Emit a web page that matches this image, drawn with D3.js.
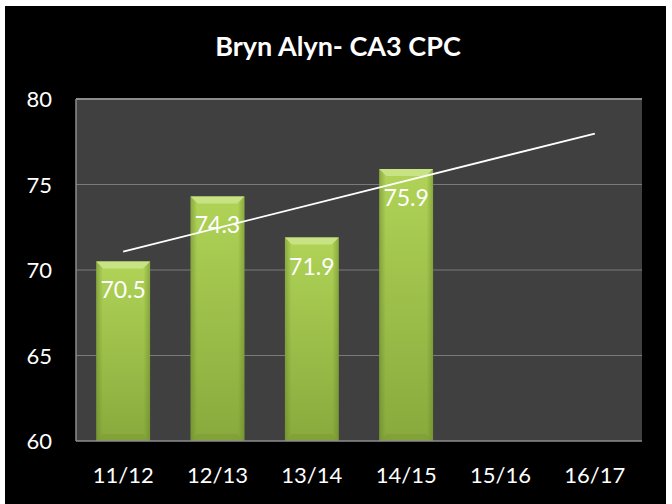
<!DOCTYPE html>
<html>
<head>
<meta charset="utf-8">
<script src="https://cdn.jsdelivr.net/npm/d3@7"></script>
<style>
  body { margin: 0; background: #fff; }
  svg { display: block; }
</style>
</head>
<body>
<svg id="chart"></svg>
<script>
// chart data
var years = ['11/12', '12/13', '13/14', '14/15', '15/16', '16/17']
var scores = [70.5, 74.3, 71.9, 75.9]
var yTicks = [60, 65, 70, 75, 80]
var title = 'Bryn Alyn- CA3 CPC'

var width = 672
var height = 504
var margin = { top: 99, right: 30, bottom: 63, left: 76 }

var svg = d3.select('#chart').attr('width', width).attr('height', height)

// black card with thin white frame
svg.append('rect')
  .attr('x', 5).attr('y', 6)
  .attr('width', 661).attr('height', 498)
  .attr('fill', '#000')

var defs = svg.append('defs')
var g1 = defs.append('linearGradient').attr('id', 'barFill')
  .attr('x1', 0).attr('y1', 0).attr('x2', 0).attr('y2', 1)
g1.append('stop').attr('offset', '0%').attr('stop-color', '#b0d357')
g1.append('stop').attr('offset', '100%').attr('stop-color', '#88aa3d')

var g2 = defs.append('linearGradient').attr('id', 'barSide')
  .attr('x1', 0).attr('y1', 0).attr('x2', 1).attr('y2', 0)
g2.append('stop').attr('offset', '0%').attr('stop-color', '#5d7a22').attr('stop-opacity', 0.45)
g2.append('stop').attr('offset', '12%').attr('stop-color', '#5d7a22').attr('stop-opacity', 0)
g2.append('stop').attr('offset', '88%').attr('stop-color', '#5d7a22').attr('stop-opacity', 0)
g2.append('stop').attr('offset', '100%').attr('stop-color', '#5d7a22').attr('stop-opacity', 0.45)

var x = d3.scaleBand()
  .domain(years)
  .range([margin.left, width - margin.right])
  .paddingInner(0.43)
  .paddingOuter(0.215)

var y = d3.scaleLinear()
  .domain([60, 80])
  .range([height - margin.bottom, margin.top])

// plot background
svg.append('rect')
  .attr('x', margin.left).attr('y', margin.top)
  .attr('width', width - margin.right - margin.left)
  .attr('height', height - margin.bottom - margin.top)
  .attr('fill', '#404040')

// gridlines
svg.append('g')
  .selectAll('line')
  .data(yTicks.slice(1))
  .enter()
  .append('line')
  .attr('x1', margin.left)
  .attr('x2', width - margin.right)
  .attr('y1', d => y(d))
  .attr('y2', d => y(d))
  .attr('stroke', d => d === 80 ? '#8c8c8c' : '#7a7a7a')
  .attr('stroke-width', d => d === 80 ? 2 : 1.2)

// y axis labels
svg.append('g')
  .selectAll('text')
  .data(yTicks)
  .enter()
  .append('text')
  .attr('x', 52)
  .attr('y', d => y(d) + 8)
  .attr('text-anchor', 'end')
  .attr('fill', '#fff')
  .attr('font-family', 'Lato, sans-serif')
  .attr('font-size', 22)
  .text(d => d)

// bars
var barData = scores.map((v, i) => ({ year: years[i], value: v }))
var bars = svg.append('g').selectAll('g')
  .data(barData)
  .enter()
  .append('g')

bars.append('rect')
  .attr('x', d => x(d.year))
  .attr('y', d => y(d.value))
  .attr('width', x.bandwidth())
  .attr('height', d => y(60) - y(d.value))
  .attr('fill', 'url(#barFill)')

bars.append('rect')
  .attr('x', d => x(d.year))
  .attr('y', d => y(d.value))
  .attr('width', x.bandwidth())
  .attr('height', d => y(60) - y(d.value))
  .attr('fill', 'url(#barSide)')

// top bevel
var bev = 7
bars.append('path')
  .attr('d', d => {
    var x0 = x(d.year), x1 = x0 + x.bandwidth(), t = y(d.value)
    return `M${x0},${t}L${x1},${t}L${x1 - bev},${t + bev}L${x0 + bev},${t + bev}Z`
  })
  .attr('fill', '#c8e383')

bars.append('path')
  .attr('d', d => {
    var x0 = x(d.year), x1 = x0 + x.bandwidth(), b = y(60)
    return `M${x0},${b}L${x1},${b}L${x1 - bev},${b - bev}L${x0 + bev},${b - bev}Z`
  })
  .attr('fill', '#7d9d36')
  .attr('opacity', 0.6)

// axis lines
svg.append('line')
  .attr('x1', margin.left).attr('x2', margin.left)
  .attr('y1', margin.top).attr('y2', y(60))
  .attr('stroke', '#8c8c8c').attr('stroke-width', 1.5)
svg.append('line')
  .attr('x1', margin.left).attr('x2', width - margin.right)
  .attr('y1', y(60)).attr('y2', y(60))
  .attr('stroke', '#8c8c8c').attr('stroke-width', 1.5)

// linear trendline over all categories
var xs = scores.map((v, i) => i + 1)
var mx = d3.mean(xs), my = d3.mean(scores)
var slope = d3.sum(xs, (xi, i) => (xi - mx) * (scores[i] - my)) / d3.sum(xs, xi => (xi - mx) * (xi - mx))
var trend = years.map((yr, i) => ({ year: yr, value: my + slope * (i + 1 - mx) }))
var trendLine = d3.line()
  .x(d => x(d.year) + x.bandwidth() / 2)
  .y(d => y(d.value))
svg.append('path')
  .datum([trend[0], trend[trend.length - 1]])
  .attr('d', trendLine)
  .attr('fill', 'none')
  .attr('stroke', '#fff')
  .attr('stroke-width', 1.8)

// value labels
bars.append('text')
  .attr('x', d => x(d.year) + x.bandwidth() / 2)
  .attr('y', d => y(d.value) + 37)
  .attr('text-anchor', 'middle')
  .attr('fill', '#fff')
  .attr('font-family', 'Lato, sans-serif')
  .attr('font-size', 23)
  .text(d => d.value.toFixed(1))

// category labels
svg.append('g')
  .selectAll('text')
  .data(years)
  .enter()
  .append('text')
  .attr('x', d => x(d) + x.bandwidth() / 2)
  .attr('y', 483)
  .attr('text-anchor', 'middle')
  .attr('fill', '#fff')
  .attr('font-family', 'Lato, sans-serif')
  .attr('font-size', 22)
  .text(d => d)

// title
svg.append('text')
  .attr('x', 338)
  .attr('y', 56)
  .attr('text-anchor', 'middle')
  .attr('fill', '#fff')
  .attr('font-family', 'Lato, sans-serif')
  .attr('font-weight', 'bold')
  .attr('font-size', 27)
  .text(title)
</script>
</body>
</html>
